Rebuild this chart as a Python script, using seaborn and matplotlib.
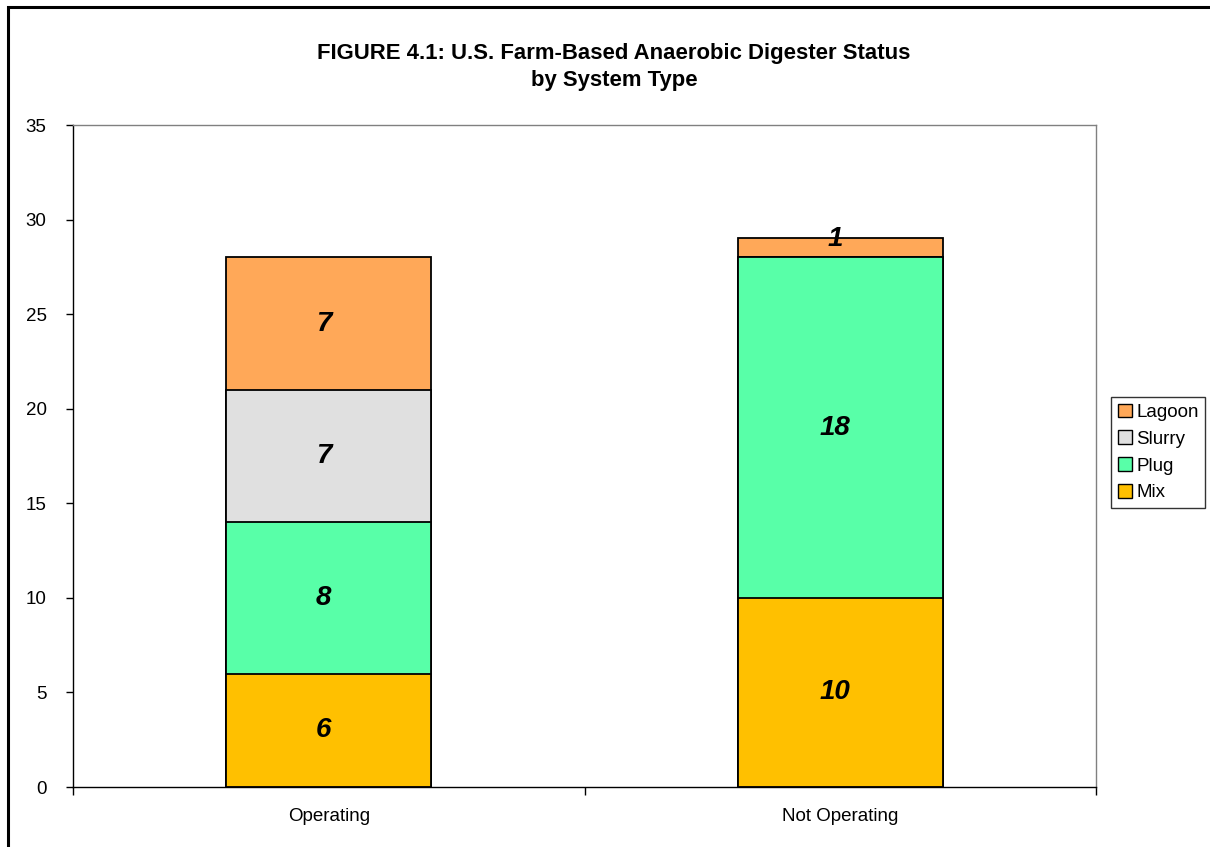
import numpy as np
import pandas as pd
import matplotlib.pyplot as plt
import seaborn as sns
from matplotlib.patches import Patch, Rectangle

# data
status = ['Operating', 'Not Operating']
systems = ['Mix', 'Plug', 'Slurry', 'Lagoon']
mix = [6, 10]
plug = [8, 18]
slurry = [7, 0]
lagoon = [7, 1]
colors = {'Mix': '#FFC000', 'Plug': '#58FFA8', 'Slurry': '#E0E0E0', 'Lagoon': '#FFA858'}

sns.set_theme(style='white')
plt.rcParams['font.family'] = ['Liberation Sans', 'DejaVu Sans']
plt.rcParams['text.color'] = 'black'
plt.rcParams['xtick.color'] = 'black'
plt.rcParams['ytick.color'] = 'black'

df = pd.DataFrame({'status': status, 'Mix': mix, 'Plug': plug, 'Slurry': slurry, 'Lagoon': lagoon})
cum = df[systems].cumsum(axis=1)

fig = plt.figure(figsize=(12.1, 8.47), dpi=100)
ax = fig.add_axes([73 / 1210, 1 - 787 / 847, (1096 - 73) / 1210, (787 - 125) / 847])

# stacked bars: draw cumulative totals from the top series down
for s in reversed(systems):
    sns.barplot(x=df['status'], y=cum[s], color=colors[s], width=0.4,
                edgecolor='black', linewidth=1.3, saturation=1, ax=ax)

# segment labels (thin segments get the label nudged up like Excel does)
for i in range(len(status)):
    base = 0
    for s in systems:
        v = df[s][i]
        if v > 0:
            y = base + v / 2 if v > 1 else base + v * 0.95
            ax.text(i - 0.01, y, str(v), ha='center', va='center',
                    fontsize=20, fontweight='bold', fontstyle='italic')
        base += v

ax.set_xlim(-0.5, 1.5)
ax.set_ylim(0, 35)
ax.set_yticks(range(0, 36, 5))
ax.set_xlabel('')
ax.set_ylabel('')
ax.set_xticks([-0.5, 0.5, 1.5], minor=False)
ax.set_xticklabels(['', '', ''])
ax.set_xticks([0, 1], minor=True)
ax.set_xticklabels(status, minor=True)
ax.tick_params(axis='x', which='major', bottom=True, direction='out', length=6, width=1)
ax.tick_params(axis='x', which='minor', bottom=False, length=0, pad=15, labelsize=13.5)
ax.tick_params(axis='y', left=True, direction='out', length=5, width=1, labelsize=13.5, pad=14)
ax.spines['left'].set_color('black')
ax.spines['bottom'].set_color('black')
ax.spines['top'].set_color('#808080')
ax.spines['right'].set_color('#808080')
for sp in ax.spines.values():
    sp.set_linewidth(1)

handles = [Patch(facecolor=colors[s], edgecolor='black', label=s) for s in reversed(systems)]
leg = fig.legend(handles=handles, loc='upper left', bbox_to_anchor=(1111 / 1210, 1 - 397 / 847),
                 frameon=True, fancybox=False, edgecolor='black', fontsize=13.5,
                 handlelength=0.75, handleheight=0.75, handletextpad=0.25,
                 borderpad=0.35, labelspacing=0.5, borderaxespad=0)
leg.get_frame().set_linewidth(1)

fig.text(614 / 1210, 1 - 67 / 847, 'FIGURE 4.1: U.S. Farm-Based Anaerobic Digester Status\nby System Type',
         ha='center', va='center', fontsize=15.9, fontweight='bold', linespacing=1.35)

# outer chart border
fig.patches.append(Rectangle((8 / 1210, -0.1), 1.2, 1 - 7 / 847 + 0.1, transform=fig.transFigure,
                             fill=False, edgecolor='black', linewidth=2.2))

fig.savefig('out.png', dpi=100)
